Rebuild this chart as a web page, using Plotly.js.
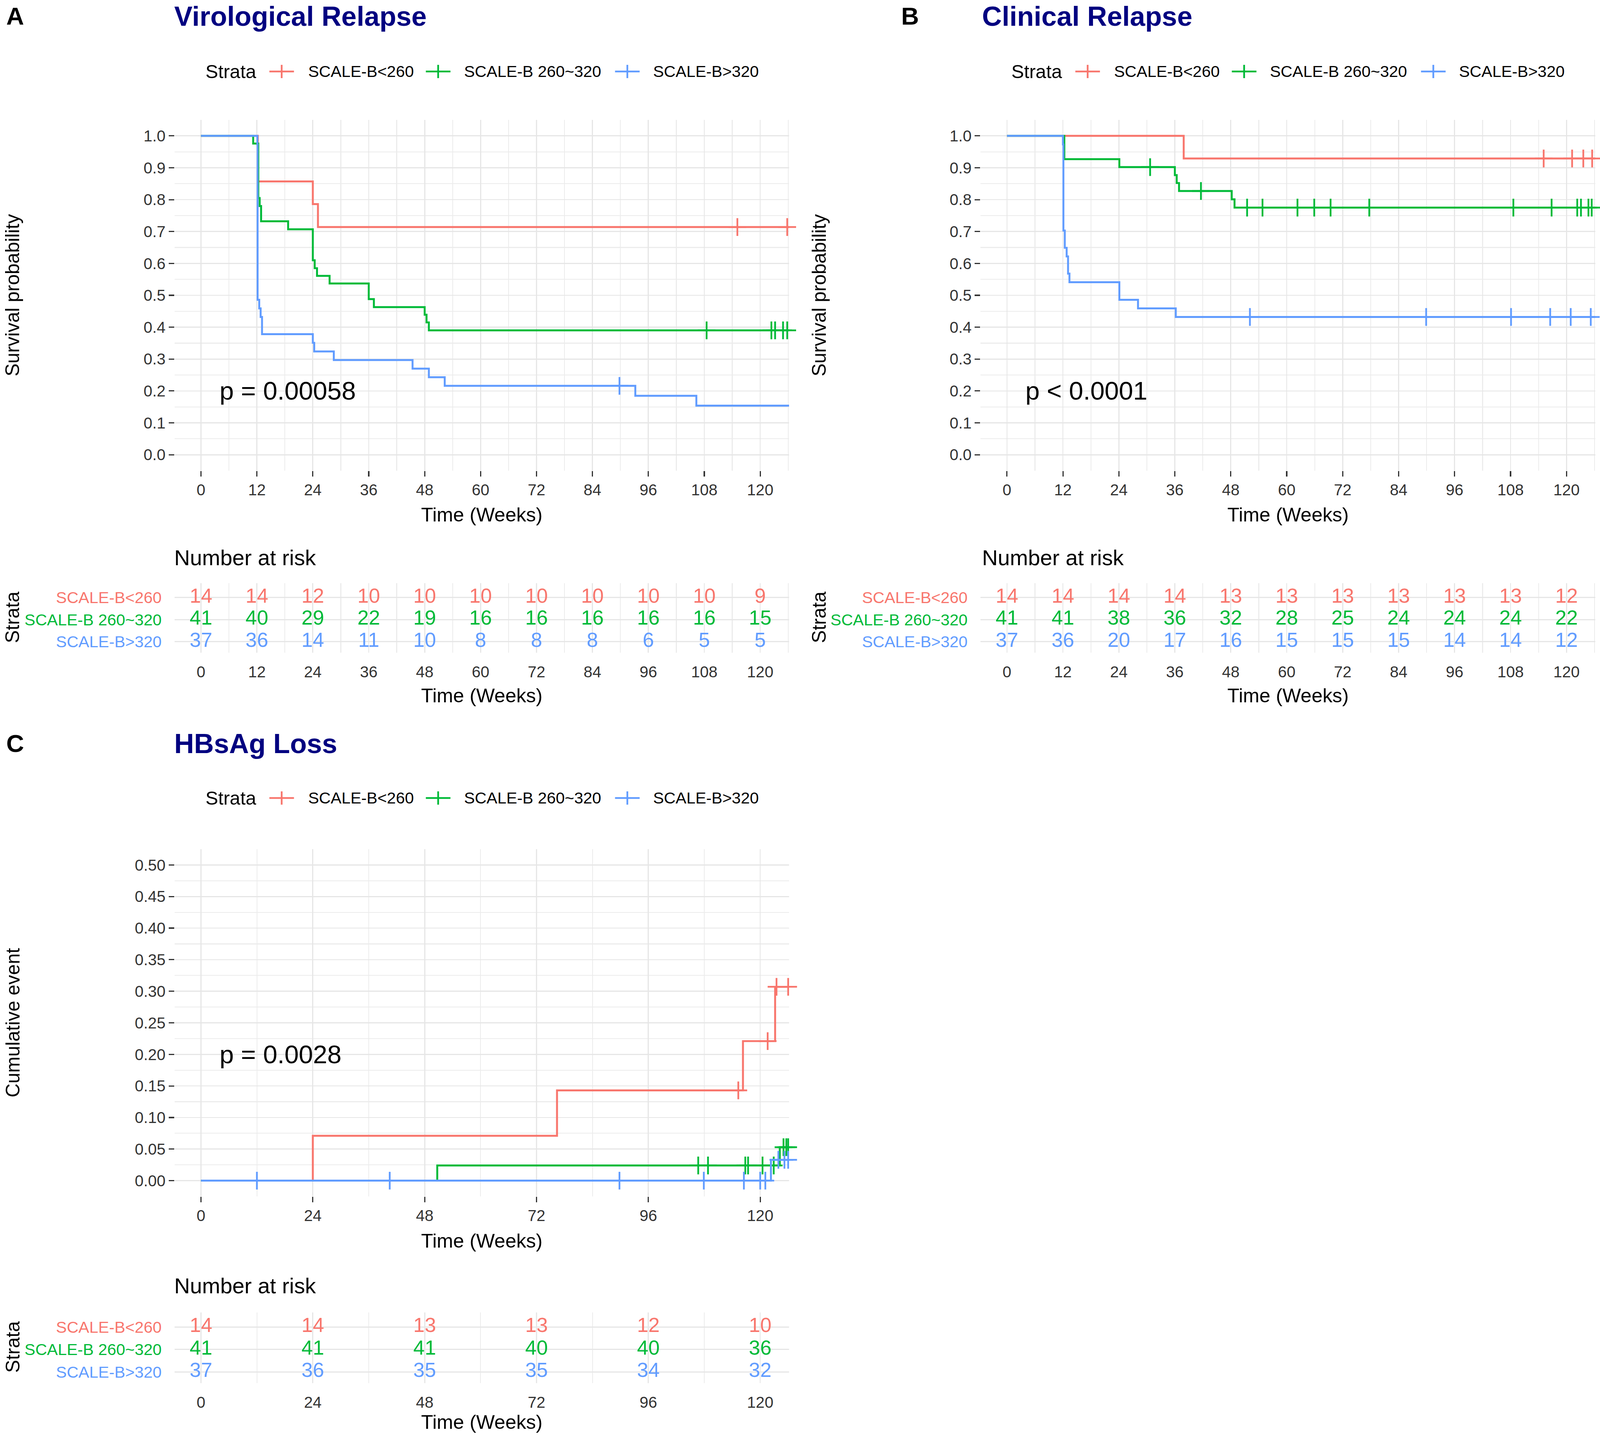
<!DOCTYPE html>
<html>
<head>
<meta charset="utf-8">
<script src="https://cdn.plot.ly/plotly-3.0.1.min.js"></script>
<style>html,body{margin:0;padding:0;background:#fff;overflow:hidden;}</style>
</head>
<body>
<div id="myDiv"></div>
<script>
// ---- data ----
var strata = ["SCALE-B<260", "SCALE-B 260~320", "SCALE-B>320"];
var strataColors = ["#F8766D", "#00BA38", "#619CFF"];

// A: virological relapse (Kaplan-Meier survival)
var vrRedT = [0, 12.2, 24.0, 25.1, 126.2];
var vrRedS = [1, 0.857, 0.786, 0.714, 0.714];
var vrRedCens = [115.1, 125.8];
var vrGreenT = [0, 11.2, 12.3, 12.6, 12.9, 18.7, 24.0, 24.4, 24.9, 27.6, 36.0, 37.1, 48.0, 48.4, 48.9, 126.2];
var vrGreenS = [1, 0.976, 0.805, 0.780, 0.732, 0.707, 0.610, 0.585, 0.561, 0.537, 0.488, 0.463, 0.439, 0.415, 0.390, 0.390];
var vrGreenCens = [108.5, 122.4, 123.2, 124.9, 125.8];
var vrBlueT = [0, 12.1, 12.15, 12.5, 12.8, 13.1, 24.0, 24.3, 28.5, 45.4, 48.9, 52.3, 93.2, 106.3, 126.2];
var vrBlueS = [1, 0.973, 0.486, 0.459, 0.432, 0.378, 0.351, 0.324, 0.297, 0.270, 0.243, 0.216, 0.185, 0.154, 0.154];
var vrBlueCens = [89.8];

// B: clinical relapse
var crRedT = [0, 37.9, 126.2];
var crRedS = [1, 0.929, 0.929];
var crRedCens = [115.1, 121.2, 123.6, 125.5];
var crGreenT = [0, 12.3, 24.1, 36.0, 36.4, 36.9, 48.2, 48.8, 126.2];
var crGreenS = [1, 0.927, 0.902, 0.877, 0.852, 0.827, 0.801, 0.775, 0.775];
var crGreenCens = [30.7, 41.6, 51.5, 54.8, 62.3, 65.9, 69.4, 77.7, 108.6, 116.8, 122.3, 123.1, 124.7, 125.4];
var crBlueT = [0, 12.0, 12.1, 12.4, 12.8, 13.1, 13.4, 24.1, 28.1, 36.2, 126.2];
var crBlueS = [1, 0.973, 0.703, 0.649, 0.622, 0.568, 0.541, 0.486, 0.459, 0.432, 0.432];
var crBlueCens = [52.1, 89.9, 108.1, 116.5, 120.9, 125.2];

// C: HBsAg loss (cumulative event)
var hlRedT = [0, 24.0, 76.4, 116.3, 123.2, 126.2];
var hlRedC = [0, 0.071, 0.143, 0.221, 0.307, 0.307];
var hlRedCens = [115.3, 121.6, 123.5, 126.0];
var hlGreenT = [0, 50.7, 124.2, 126.2];
var hlGreenC = [0, 0.024, 0.053, 0.053];
var hlGreenCens = [106.7, 108.8, 116.8, 117.4, 120.5, 122.9, 125.0, 125.6, 126.0];
var hlBlueT = [0, 122.3, 126.2];
var hlBlueC = [0, 0.033, 0.033];
var hlBlueCens = [12.0, 40.5, 89.8, 107.9, 116.5, 120.0, 121.1, 123.9, 125.2, 126.0];

// numbers at risk
var riskTimes12 = [0, 12, 24, 36, 48, 60, 72, 84, 96, 108, 120];
var riskTimes24 = [0, 24, 48, 72, 96, 120];
var vrRiskRed = [14, 14, 12, 10, 10, 10, 10, 10, 10, 10, 9];
var vrRiskGreen = [41, 40, 29, 22, 19, 16, 16, 16, 16, 16, 15];
var vrRiskBlue = [37, 36, 14, 11, 10, 8, 8, 8, 6, 5, 5];
var crRiskRed = [14, 14, 14, 14, 13, 13, 13, 13, 13, 13, 12];
var crRiskGreen = [41, 41, 38, 36, 32, 28, 25, 24, 24, 24, 22];
var crRiskBlue = [37, 36, 20, 17, 16, 15, 15, 15, 14, 14, 12];
var hlRiskRed = [14, 14, 13, 13, 12, 10];
var hlRiskGreen = [41, 41, 41, 40, 40, 36];
var hlRiskBlue = [37, 36, 35, 35, 34, 32];

var pValues = ["p = 0.00058", "p < 0.0001", "p = 0.0028"];

// ---- page geometry, laid out in pixels of the 4550x3684 figure ----
var RW = 4550, RH = 3684;
var W = window.innerWidth || RW, H = window.innerHeight || RH;
var s = Math.min(W / RW, H / RH);   // size scale when the viewport differs
document.getElementById("myDiv").style.width = W + "px";
document.getElementById("myDiv").style.height = H + "px";

var FONT = "Liberation Sans, Arial, sans-serif";
function px(x) { return x / RW; }
function py(y) { return 1 - y / RH; }
function S(v) { return v * s; }
function esc(t) { return t.replace(/</g, "&lt;").replace(/>/g, "&gt;"); }

var XR = [-5.7, 126.2];
var GRID = "#e6e6e6", MINOR = "#ececec";

function stepAt(times, vals, t) {
  var v = vals[0];
  for (var i = 0; i < times.length; i++) if (times[i] <= t) v = vals[i];
  return v;
}

var data = [];
function addCurve(times, vals, cens, color, xa, ya) {
  data.push({
    x: times, y: vals, xaxis: xa, yaxis: ya, type: "scatter", mode: "lines",
    line: {color: color, width: S(5.5), shape: "hv"}, showlegend: false, hoverinfo: "skip"
  });
  data.push({
    x: cens, y: cens.map(function (c) { return stepAt(times, vals, c); }),
    xaxis: xa, yaxis: ya, type: "scatter", mode: "markers", cliponaxis: false,
    marker: {symbol: "cross-thin-open", size: S(36), color: color, line: {color: color, width: S(5)}},
    showlegend: false, hoverinfo: "skip"
  });
}
function addRisk(times, rows, xa, ya) {
  rows.forEach(function (r, i) {
    data.push({
      x: times, y: times.map(function () { return 3 - i; }), text: r.map(String),
      xaxis: xa, yaxis: ya, type: "scatter", mode: "text", textposition: "middle center",
      textfont: {family: FONT, size: S(58), color: strataColors[i]}, showlegend: false, hoverinfo: "skip",
      cliponaxis: false
    });
  });
}

addCurve(vrRedT, vrRedS, vrRedCens, strataColors[0], "x", "y");
addCurve(vrGreenT, vrGreenS, vrGreenCens, strataColors[1], "x", "y");
addCurve(vrBlueT, vrBlueS, vrBlueCens, strataColors[2], "x", "y");
addRisk(riskTimes12, [vrRiskRed, vrRiskGreen, vrRiskBlue], "x2", "y2");
addCurve(crRedT, crRedS, crRedCens, strataColors[0], "x3", "y3");
addCurve(crGreenT, crGreenS, crGreenCens, strataColors[1], "x3", "y3");
addCurve(crBlueT, crBlueS, crBlueCens, strataColors[2], "x3", "y3");
addRisk(riskTimes12, [crRiskRed, crRiskGreen, crRiskBlue], "x4", "y4");
addCurve(hlRedT, hlRedC, hlRedCens, strataColors[0], "x5", "y5");
addCurve(hlGreenT, hlGreenC, hlGreenCens, strataColors[1], "x5", "y5");
addCurve(hlBlueT, hlBlueC, hlBlueCens, strataColors[2], "x5", "y5");
addRisk(riskTimes24, [hlRiskRed, hlRiskGreen, hlRiskBlue], "x6", "y6");

// ---- axes ----
function plotX(l, r, anchor, dt) {
  return {domain: [px(l), px(r)], range: XR, anchor: anchor, dtick: dt, tick0: 0,
    ticks: "outside", ticklen: S(15), tickwidth: S(3.5), tickcolor: "#333", ticklabelstandoff: S(8),
    tickfont: {family: FONT, size: S(45), color: "#333"},
    showgrid: true, gridcolor: GRID, gridwidth: S(3), zeroline: false, showline: false,
    minor: {dtick: dt / 2, tick0: 0, showgrid: true, gridcolor: MINOR, gridwidth: S(2.5)}};
}
function plotY(t, b, anchor, range, dt, fmt) {
  return {domain: [py(b), py(t)], range: range, anchor: anchor, dtick: dt, tick0: 0, tickformat: fmt,
    ticks: "outside", ticklen: S(15), tickwidth: S(3.5), tickcolor: "#333", ticklabelstandoff: S(12),
    tickfont: {family: FONT, size: S(45), color: "#333"},
    showgrid: true, gridcolor: GRID, gridwidth: S(3), zeroline: false, showline: false,
    minor: {dtick: dt / 2, tick0: 0, showgrid: true, gridcolor: MINOR, gridwidth: S(2.5)}};
}
function tableX(l, r, anchor, dt) {
  var a = plotX(l, r, anchor, dt);
  a.tickcolor = "rgba(0,0,0,0)";
  a.ticklen = S(15);
  return a;
}
function tableY(t, b, anchor) {
  return {domain: [py(b), py(t)], range: [0.5, 3.65], anchor: anchor,
    tickmode: "array", tickvals: [3, 2, 1],
    ticktext: strata.map(function (n, i) { return '<span style="color:' + strataColors[i] + '">' + esc(n) + "</span>"; }),
    ticks: "outside", ticklen: S(26), tickcolor: "rgba(0,0,0,0)",
    tickfont: {family: FONT, size: S(46)},
    showgrid: true, gridcolor: GRID, gridwidth: S(3), zeroline: false, showline: false};
}

var AL = 496, AR = 2244, BL = 2788, BR = 4537;

var layout = {
  width: W, height: H, margin: {l: 0, r: 0, t: 0, b: 0},
  paper_bgcolor: "#fff", plot_bgcolor: "#fff", showlegend: false,
  font: {family: FONT, color: "#000"},
  xaxis: plotX(AL, AR, "y", 12),
  yaxis: plotY(307, 1205, "x", [-0.05, 1.05], 0.1, ".1f"),
  xaxis2: tableX(AL, AR, "y2", 12),
  yaxis2: tableY(1493, 1671, "x2"),
  xaxis3: plotX(BL, BR, "y3", 12),
  yaxis3: plotY(307, 1205, "x3", [-0.05, 1.05], 0.1, ".1f"),
  xaxis4: tableX(BL, BR, "y4", 12),
  yaxis4: tableY(1493, 1671, "x4"),
  xaxis5: plotX(AL, AR, "y5", 24),
  yaxis5: plotY(2174, 3063, "x5", [-0.025, 0.525], 0.05, ".2f"),
  xaxis6: tableX(AL, AR, "y6", 24),
  yaxis6: tableY(3360, 3541, "x6"),
  annotations: [],
  shapes: []
};

function note(text, x, y, size, opts) {
  var a = {text: text, x: px(x), y: py(y), xref: "paper", yref: "paper", showarrow: false,
    xanchor: "left", yanchor: "middle", font: {family: FONT, size: S(size), color: "#000"}};
  for (var k in opts) a[k] = opts[k];
  layout.annotations.push(a);
}

// panel letters and titles
var navy = {family: FONT, size: S(78), color: "#000080"};
note("<b>A</b>", 15, 41, 70);
note("<b>B</b>", 2560, 41, 70);
note("<b>C</b>", 15, 1903, 70);
note("<b>Virological Relapse</b>", 493, 41, 78, {font: navy});
note("<b>Clinical Relapse</b>", 2790, 41, 78, {font: navy});
note("<b>HBsAg Loss</b>", 493, 1903, 78, {font: navy});

// legends
var keyOff = [270, 715, 1253], labOff = [378, 821, 1359];
function legend(left, y) {
  note("Strata", left + 86, y, 54);
  strata.forEach(function (n, i) {
    var x0 = left + keyOff[i], x1 = x0 + 70, xm = (x0 + x1) / 2;
    layout.shapes.push({type: "line", xref: "paper", yref: "paper", x0: px(x0), x1: px(x1), y0: py(y), y1: py(y),
      line: {color: strataColors[i], width: S(5)}});
    layout.shapes.push({type: "line", xref: "paper", yref: "paper", x0: px(xm), x1: px(xm), y0: py(y - 17), y1: py(y + 17),
      line: {color: strataColors[i], width: S(5)}});
    note(esc(n), left + labOff[i], y, 46);
  });
}
legend(AL, 183);
legend(BL, 183);
legend(AL, 2043);

// axis titles
function vtitle(text, x, y) { note(text, x, y, 55, {xanchor: "center", textangle: -90}); }
vtitle("Survival probability", 35, 756);
vtitle("Survival probability", 2329, 756);
vtitle("Cumulative event", 35, 2618);
vtitle("Strata", 35, 1580);
vtitle("Strata", 2329, 1580);
vtitle("Strata", 35, 3448);
function htitle(l, r, y) { note("Time (Weeks)", (l + r) / 2, y, 56, {xanchor: "center"}); }
htitle(AL, AR, 1317); htitle(BL, BR, 1317); htitle(AL, AR, 3176);
htitle(AL, AR, 1780); htitle(BL, BR, 1780); htitle(AL, AR, 3640);
note("Number at risk", 493, 1428, 62);
note("Number at risk", 2790, 1428, 62);
note("Number at risk", 493, 3291, 62);

// p-values in data coordinates
[["x", "y"], ["x3", "y3"], ["x5", "y5"]].forEach(function (p, i) {
  layout.annotations.push({text: pValues[i], x: 3.8, y: 0.2, xref: p[0], yref: p[1], showarrow: false,
    xanchor: "left", yanchor: "middle", font: {family: FONT, size: S(73), color: "#000"}});
});

Plotly.newPlot("myDiv", data, layout, {staticPlot: true});
</script>
</body>
</html>
